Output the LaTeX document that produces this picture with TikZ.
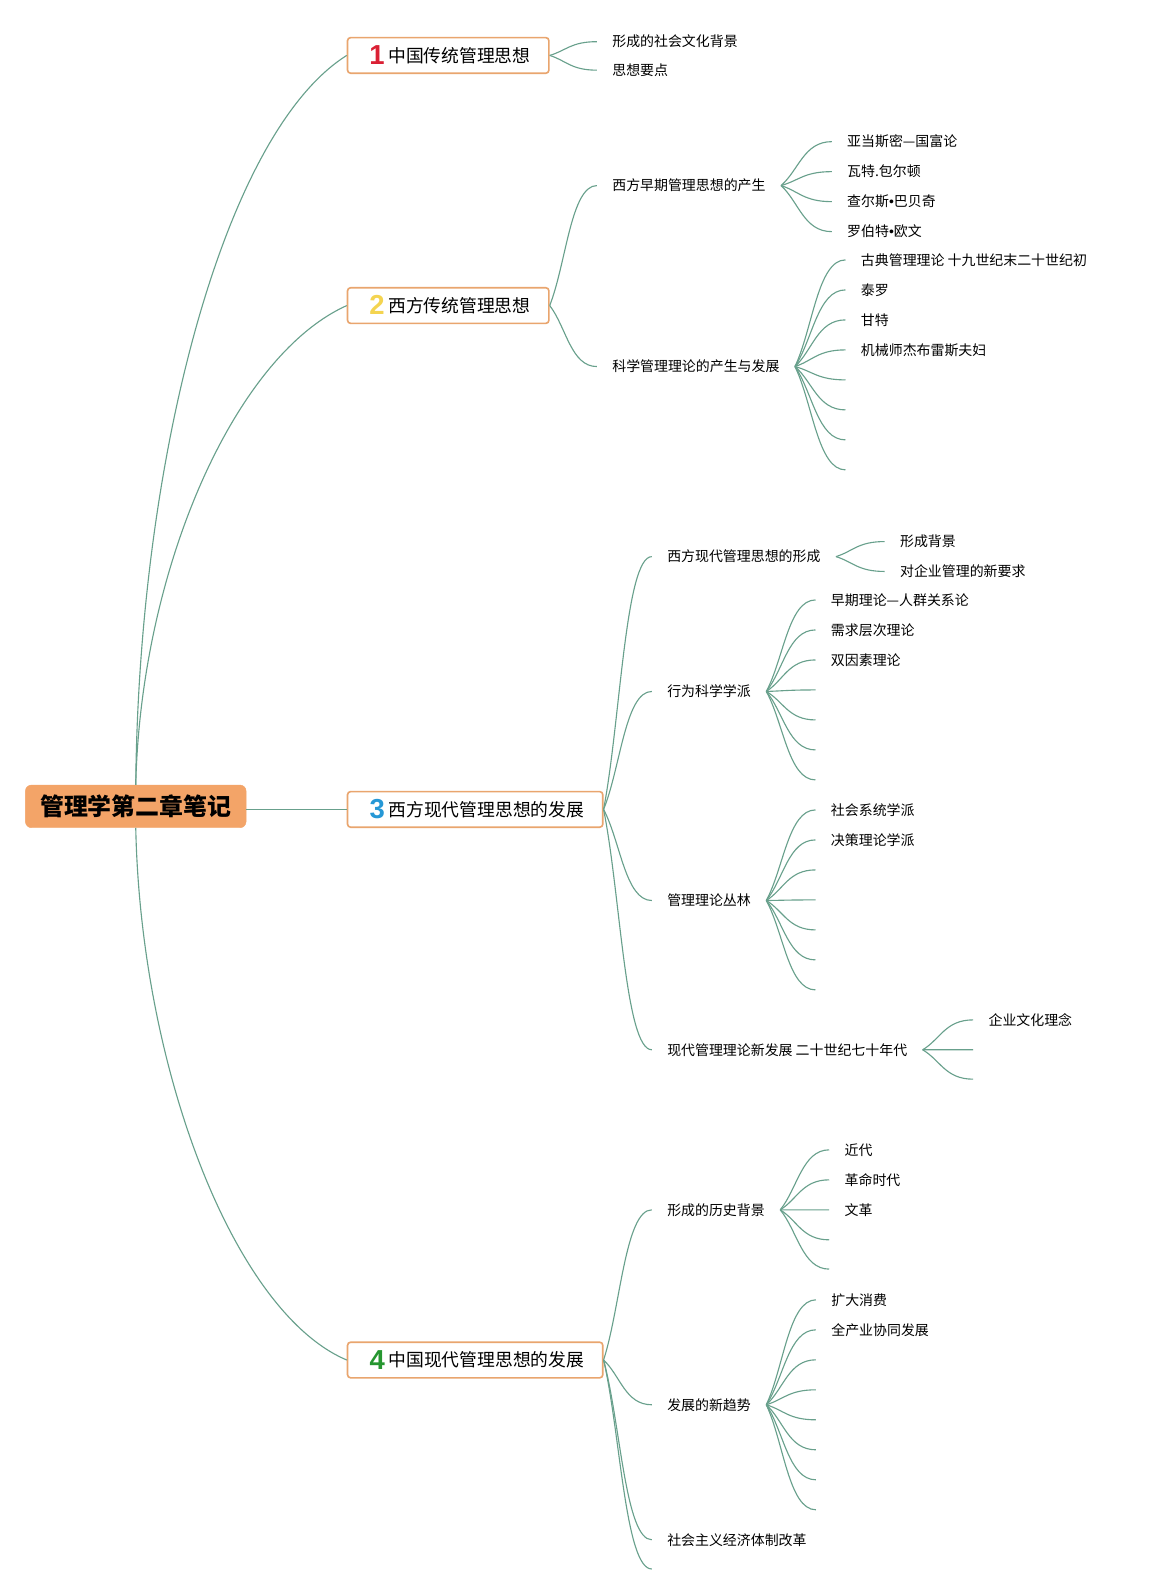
\documentclass[tikz,border=0pt]{standalone}
\usepackage{fontspec}
\setmainfont{Noto Sans CJK SC}
\newfontfamily\numfont{Liberation Sans}
\newfontfamily\latinfont{Liberation Sans}
\usetikzlibrary{calc}
\definecolor{lineclr}{RGB}{104,160,140}
\definecolor{boxborder}{RGB}{233,165,110}
\definecolor{rootfill}{RGB}{243,164,104}
\definecolor{numred}{RGB}{218,32,52}
\definecolor{numyellow}{RGB}{244,212,80}
\definecolor{numblue}{RGB}{38,152,214}
\definecolor{numgreen}{RGB}{38,150,48}
\newcommand{\numtag}[2]{\makebox[22pt][c]{\raisebox{-2.5pt}{\numfont\bfseries\fontsize{27}{27}\selectfont\color{#1}#2}}}
\newcommand{\dotsep}{{\latinfont •}}
\tikzset{
  conn/.style={draw=lineclr, line width=1.1pt},
  fork/.style={to path={.. controls ($(\tikztostart)!0.35!(\tikztotarget)$) and ($(\tikztotarget)!0.55!(\tikztotarget -| \tikztostart)$) .. (\tikztotarget)}},
  rootbox/.style={fill=rootfill, draw=rootfill, rounded corners=6pt, minimum width=217pt, minimum height=42pt, font=\fontsize{23.5}{28}\selectfont\bfseries, text height=20.7pt, text depth=2.8pt, inner sep=0pt},
  topbox/.style={draw=boxborder, line width=1.6pt, fill=white, rounded corners=3pt, minimum height=35pt, font=\fontsize{17.5}{21}\selectfont, text height=15.4pt, text depth=2.1pt, inner sep=0pt, anchor=west},
  topic/.style={font=\fontsize{13.7}{16}\selectfont, inner xsep=15pt, inner ysep=0pt, text height=12.06pt, text depth=1.64pt, anchor=west},
}
\begin{document}
\begin{tikzpicture}[x=1pt,y=-1pt]
\fill[white] (0,0) rectangle (1130,1568.6);
\useasboundingbox (0,0) rectangle (1130,1568.6);

% root and main topics
\node[rootbox] (root) at (133.5,793) {管理学第二章笔记};
\node[topbox, minimum width=198pt] (b1) at (341,54.5) {\numtag{numred}{1}中国传统管理思想};
\node[topbox, minimum width=198pt] (b2) at (341,300.5) {\numtag{numyellow}{2}西方传统管理思想};
\node[topbox, minimum width=251pt] (b3) at (341,796) {\numtag{numblue}{3}西方现代管理思想的发展};
\node[topbox, minimum width=251pt] (b4) at (341,1337.5) {\numtag{numgreen}{4}中国现代管理思想的发展};

\draw[conn] (root.north) .. controls +(3,-321) and +(-121,76) .. (b1.west);
\draw[conn] (root.north) .. controls +(5,-211) and +(-111,50) .. (b2.west);
\draw[conn] (root.east |- b3.west) -- (b3.west);
\draw[conn] (root.south) .. controls +(5,237) and +(-111,-47) .. (b4.west);

% branch 1
\node[topic] (a1) at (587,41) {形成的社会文化背景};
\node[topic] (a2) at (587,69) {思想要点};
\draw[conn] (b1.east) to[fork] (a1.west);
\draw[conn] (b1.east) to[fork] (a2.west);

% branch 2
\node[topic] (c1) at (587,182.5) {西方早期管理思想的产生};
\node[topic] (c2) at (587,360.5) {科学管理理论的产生与发展};
\draw[conn] (b2.east) to[fork] (c1.west);
\draw[conn] (b2.east) to[fork] (c2.west);

\node[topic] (c11) at (818,139.3) {亚当斯密—国富论};
\node[topic] (c12) at (818,168.8) {瓦特.包尔顿};
\node[topic] (c13) at (818,198.3) {查尔斯\dotsep 巴贝奇};
\node[topic] (c14) at (818,227.8) {罗伯特\dotsep 欧文};
\foreach \n in {c11,c12,c13,c14} \draw[conn] (c1.east) to[fork] (\n.west);

\node[topic] (c21) at (831.5,255.6) {古典管理理论 十九世纪末二十世纪初};
\node[topic] (c22) at (831.5,285.1) {泰罗};
\node[topic] (c23) at (831.5,314.6) {甘特};
\node[topic] (c24) at (831.5,344.1) {机械师杰布雷斯夫妇};
\foreach \n in {c21,c22,c23,c24} \draw[conn] (c2.east) to[fork] (\n.west);
\foreach \y [count=\i] in {373.6,403.1,432.6,462.1} {
  \coordinate (c2e\i) at (831.5,\y);
  \draw[conn] (c2.east) to[fork] (c2e\i);
}

% branch 3
\node[topic] (d1) at (641,547.4) {西方现代管理思想的形成};
\node[topic] (d2) at (641,680) {行为科学学派};
\node[topic] (d3) at (641,885.6) {管理理论丛林};
\node[topic] (d4) at (641,1032.4) {现代管理理论新发展 二十世纪七十年代};
\foreach \n in {d1,d2,d3,d4} \draw[conn] (b3.east) to[fork] (\n.west);

\node[topic] (d11) at (870,532.6) {形成背景};
\node[topic] (d12) at (870,562) {对企业管理的新要求};
\foreach \n in {d11,d12} \draw[conn] (d1.east) to[fork] (\n.west);

\node[topic] (d21) at (802,590) {早期理论—人群关系论};
\node[topic] (d22) at (802,619.5) {需求层次理论};
\node[topic] (d23) at (802,649) {双因素理论};
\foreach \n in {d21,d22,d23} \draw[conn] (d2.east) to[fork] (\n.west);
\foreach \y [count=\i] in {678.5,708,737.5,767} {
  \coordinate (d2e\i) at (802,\y);
  \draw[conn] (d2.east) to[fork] (d2e\i);
}

\node[topic] (d31) at (802,796.5) {社会系统学派};
\node[topic] (d32) at (802,826) {决策理论学派};
\foreach \n in {d31,d32} \draw[conn] (d3.east) to[fork] (\n.west);
\foreach \y [count=\i] in {855.5,885,914.5,944,973.5} {
  \coordinate (d3e\i) at (802,\y);
  \draw[conn] (d3.east) to[fork] (d3e\i);
}

\node[topic] (d41) at (957,1003) {企业文化理念};
\draw[conn] (d4.east) to[fork] (d41.west);
\foreach \y [count=\i] in {1032.4,1061.3} {
  \coordinate (d4e\i) at (957,\y);
  \draw[conn] (d4.east) to[fork] (d4e\i);
}

% branch 4
\node[topic] (f1) at (641,1189.8) {形成的历史背景};
\node[topic] (f2) at (641,1381.5) {发展的新趋势};
\node[topic] (f3) at (641,1514.3) {社会主义经济体制改革};
\coordinate (fe) at (641,1543);
\foreach \n in {f1,f2,f3} \draw[conn] (b4.east) to[fork] (\n.west);
\draw[conn] (b4.east) to[fork] (fe);

\node[topic] (f11) at (815.5,1130.8) {近代};
\node[topic] (f12) at (815.5,1160.3) {革命时代};
\node[topic] (f13) at (815.5,1189.8) {文革};
\foreach \n in {f11,f12,f13} \draw[conn] (f1.east) to[fork] (\n.west);
\foreach \y [count=\i] in {1219.3,1248.1} {
  \coordinate (f1e\i) at (815.5,\y);
  \draw[conn] (f1.east) to[fork] (f1e\i);
}

\node[topic] (f21) at (802.4,1278.3) {扩大消费};
\node[topic] (f22) at (802.4,1307.8) {全产业协同发展};
\foreach \n in {f21,f22} \draw[conn] (f2.east) to[fork] (\n.west);
\foreach \y [count=\i] in {1337.3,1366.8,1396.3,1425.8,1455.3,1484.8} {
  \coordinate (f2e\i) at (802.4,\y);
  \draw[conn] (f2.east) to[fork] (f2e\i);
}
\end{tikzpicture}
\end{document}
